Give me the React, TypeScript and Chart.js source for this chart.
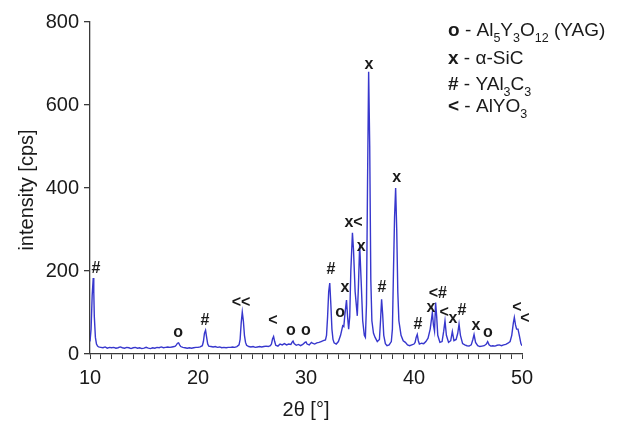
import React, { useEffect, useRef } from "react";
import { Chart, registerables } from "chart.js";

Chart.register(...registerables);

// 2θ positions (degrees)
const twoTheta = [
  10.0, 10.1, 10.2, 10.3, 10.35, 10.4, 10.5, 10.6, 10.7, 10.8,
  11.0, 11.2, 11.4, 11.6, 11.8, 12.0, 12.2, 12.4, 12.6, 12.8,
  13.0, 13.2, 13.4, 13.6, 13.8, 14.0, 14.2, 14.4, 14.6, 14.8,
  15.0, 15.2, 15.4, 15.6, 15.8, 16.0, 16.2, 16.4, 16.6, 16.8,
  17.0, 17.2, 17.4, 17.6, 17.8, 17.9, 18.0, 18.1, 18.2, 18.3,
  18.4, 18.6, 18.8, 19.0, 19.2, 19.4, 19.6, 19.8, 20.0, 20.2,
  20.4, 20.5, 20.6, 20.7, 20.8, 20.9, 21.0, 21.2, 21.4, 21.6,
  21.8, 22.0, 22.2, 22.4, 22.6, 22.8, 23.0, 23.2, 23.4, 23.6,
  23.8, 23.9, 24.0, 24.1, 24.2, 24.3, 24.4, 24.5, 24.7, 24.9,
  25.1, 25.3, 25.5, 25.7, 25.9, 26.1, 26.3, 26.5, 26.7, 26.8,
  26.9, 27.0, 27.1, 27.2, 27.4, 27.6, 27.8, 28.0, 28.2, 28.4,
  28.6, 28.7, 28.8, 28.9, 29.1, 29.3, 29.5, 29.7, 29.9, 30.0,
  30.1, 30.3, 30.5, 30.6, 30.8, 31.0, 31.2, 31.4, 31.6, 31.8,
  31.9, 32.0, 32.1, 32.2, 32.3, 32.4, 32.5, 32.6, 32.8, 33.0,
  33.2, 33.4, 33.5, 33.6, 33.75, 33.85, 33.95, 34.05, 34.15, 34.3,
  34.4, 34.55, 34.75, 34.85, 34.97, 35.1, 35.25, 35.4, 35.5, 35.6,
  35.7, 35.8, 35.9, 36.0, 36.1, 36.25, 36.4, 36.6, 36.8, 36.9,
  37.0, 37.1, 37.2, 37.35, 37.5, 37.7, 37.9, 38.0, 38.1, 38.2,
  38.3, 38.4, 38.5, 38.6, 38.8, 39.0, 39.2, 39.4, 39.6, 39.8,
  40.0, 40.1, 40.2, 40.3, 40.4, 40.5, 40.7, 40.9, 41.1, 41.3,
  41.5, 41.7, 41.8, 41.9, 42.0, 42.1, 42.2, 42.4, 42.6, 42.75,
  42.87, 43.0, 43.2, 43.4, 43.55, 43.7, 43.9, 44.05, 44.17, 44.3,
  44.5, 44.7, 44.9, 45.1, 45.3, 45.45, 45.56, 45.7, 45.9, 46.1,
  46.3, 46.5, 46.7, 46.82, 46.95, 47.1, 47.3, 47.5, 47.7, 47.9,
  48.1, 48.3, 48.5, 48.7, 48.9, 49.05, 49.2, 49.29, 49.4, 49.5,
  49.63, 49.75, 49.9, 50.0,
];

// intensity (cps)
const intensity = [
  30, 60, 140, 183, 150, 90, 40, 24, 19, 17,
  16, 15, 17, 14, 16, 15, 16, 14, 15, 17,
  15, 14, 16, 15, 13, 15, 16, 14, 15, 13,
  14, 16, 14, 13, 15, 14, 16, 15, 17, 15,
  16, 17, 16, 17, 18, 19, 22, 26, 27, 22,
  18, 16, 15, 14, 15, 14, 15, 16, 16, 17,
  20, 30, 50, 57, 40, 24, 19, 18, 17, 18,
  16, 17, 15, 16, 15, 16, 16, 17, 16, 18,
  22, 35, 75, 101, 80, 45, 28, 21, 18, 17,
  18, 16, 17, 18, 17, 18, 19, 18, 20, 24,
  36, 42, 30, 21, 19, 24, 22, 25, 22, 24,
  23, 28, 31, 25, 21, 23, 20, 23, 28, 29,
  24, 22, 28, 26, 24, 27, 28, 30, 32, 34,
  45, 90, 150, 171, 120, 60, 35, 27, 24, 30,
  45, 68, 66, 95, 130, 90, 60, 90, 200, 292,
  250, 150, 92, 160, 263, 180, 80, 45, 40, 120,
  420, 680, 500, 180, 80, 50, 40, 30, 35, 80,
  132, 95, 45, 25, 20, 22, 30, 60, 200, 330,
  400, 300, 150, 80, 45, 32, 28, 22, 20, 22,
  24, 28, 40, 47, 32, 24, 26, 25, 30, 38,
  60, 100, 70, 55, 124, 90, 45, 28, 30, 55,
  80, 45, 28, 32, 54, 32, 35, 50, 72, 45,
  25, 22, 20, 19, 22, 35, 47, 28, 20, 18,
  19, 20, 24, 30, 22, 19, 20, 19, 21, 22,
  20, 22, 23, 26, 30, 45, 75, 88, 70, 60,
  60, 45, 25, 20,
];

// phase markers above the peaks
const markerLabels = ["#", "o", "#", "<<", "<", "o", "o", "#", "o", "x", "x<", "x", "x", "#", "x", "#", "x", "<#", "<", "x", "#", "x", "o", "<", "<"];
const markerTheta = [10.55, 18.15, 20.65, 23.98, 26.94, 28.6, 30.0, 32.3, 33.15, 33.6, 34.4, 35.1, 35.83, 37.04, 38.4, 40.37, 41.57, 42.2, 42.8, 43.6, 44.44, 45.74, 46.85, 49.54, 50.28];
const markerValue = [205, 51, 80, 123, 80, 56, 56, 203, 99, 160, 317, 259, 698, 160, 425, 70, 111, 145, 99, 85, 104, 68, 51, 111, 85];

// legend entries: symbol, then pieces [text, isSubscript]
const legendSymbols = ["o", "x", "#", "<"];
const legendTexts: [string, boolean][][] = [
  [["Al", false], ["5", true], ["Y", false], ["3", true], ["O", false], ["12", true], [" (YAG)", false]],
  [["α-SiC", false]],
  [["YAl", false], ["3", true], ["C", false], ["3", true]],
  [["AlYO", false], ["3", true]],
];

const xTitle = "2θ [°]";
const yTitle = "intensity [cps]";

const FONT = "'Liberation Sans', Arial, Helvetica, sans-serif";
const TEXT = "#1a1a1a";
const AXIS = "#3a3a3a";

const overlay = {
  id: "overlay",
  afterDraw(chart: any) {
    const { ctx, scales, chartArea } = chart;
    const xs = scales.x;
    const ys = scales.y;
    ctx.save();
    // markers
    ctx.fillStyle = TEXT;
    ctx.font = `bold 16px ${FONT}`;
    ctx.textAlign = "center";
    ctx.textBaseline = "middle";
    markerLabels.forEach((m, i) => {
      ctx.fillText(m, xs.getPixelForValue(markerTheta[i]), ys.getPixelForValue(markerValue[i]));
    });
    // legend
    const lx = 448;
    const baselines = [36, 64, 90, 112];
    ctx.textAlign = "left";
    ctx.textBaseline = "alphabetic";
    legendSymbols.forEach((s, i) => {
      const by = baselines[i];
      ctx.font = `bold 19px ${FONT}`;
      ctx.fillText(s, lx, by);
      let x = lx + ctx.measureText(s).width;
      ctx.font = `19px ${FONT}`;
      ctx.fillText(" - ", x, by);
      x += ctx.measureText(" - ").width;
      legendTexts[i].forEach(([t, sub]) => {
        ctx.font = sub ? `12.5px ${FONT}` : `19px ${FONT}`;
        ctx.fillText(t, x, sub ? by + 6 : by);
        x += ctx.measureText(t).width;
      });
    });
    // axis titles
    ctx.font = `20px ${FONT}`;
    ctx.textAlign = "center";
    ctx.textBaseline = "middle";
    ctx.fillText(xTitle, (chartArea.left + chartArea.right) / 2, 410);
    ctx.translate(27, (chartArea.top + chartArea.bottom) / 2 + 2);
    ctx.rotate(-Math.PI / 2);
    ctx.fillText(yTitle, 0, 0);
    ctx.restore();
  },
};

export default function App() {
  const ref = useRef<HTMLCanvasElement | null>(null);
  useEffect(() => {
    if (!ref.current) return;
    const chart = new Chart(ref.current, {
      type: "line",
      data: {
        datasets: [
          {
            data: twoTheta.map((t, i) => ({ x: t, y: intensity[i] })),
            borderColor: "rgb(55,55,205)",
            borderWidth: 1.4,
            pointRadius: 0,
            tension: 0,
            fill: false,
          },
        ],
      },
      options: {
        animation: false,
        responsive: false,
        maintainAspectRatio: false,
        layout: { padding: { top: 22, right: 95, left: 0, bottom: 0 } },
        plugins: { legend: { display: false }, tooltip: { enabled: false } },
        scales: {
          x: {
            type: "linear",
            min: 10,
            max: 50,
            afterFit: (s: any) => {
              s.height = 69;
            },
            ticks: {
              stepSize: 1,
              autoSkip: false,
              maxRotation: 0,
              padding: 7,
              color: TEXT,
              font: { family: FONT, size: 20 },
              callback: (v: any) => (Number(v) % 10 === 0 ? String(v) : ""),
            },
            grid: { drawOnChartArea: false, drawTicks: true, tickLength: 5, color: AXIS, lineWidth: 1 },
            border: { display: true, color: AXIS, width: 1.3 },
          },
          y: {
            min: 0,
            max: 800,
            afterFit: (s: any) => {
              s.width = 90;
            },
            ticks: {
              stepSize: 200,
              padding: 5,
              color: TEXT,
              font: { family: FONT, size: 20 },
            },
            grid: { drawOnChartArea: false, drawTicks: true, tickLength: 6, color: AXIS, lineWidth: 1.3 },
            border: { display: true, color: AXIS, width: 1.3 },
          },
        },
      },
      plugins: [overlay],
    });
    return () => chart.destroy();
  }, []);
  return (
    <div style={{ position: "fixed", left: 0, top: 0, width: 617, height: 423, background: "#fff" }}>
      <canvas ref={ref} width={617} height={423} style={{ width: 617, height: 423 }} />
    </div>
  );
}
